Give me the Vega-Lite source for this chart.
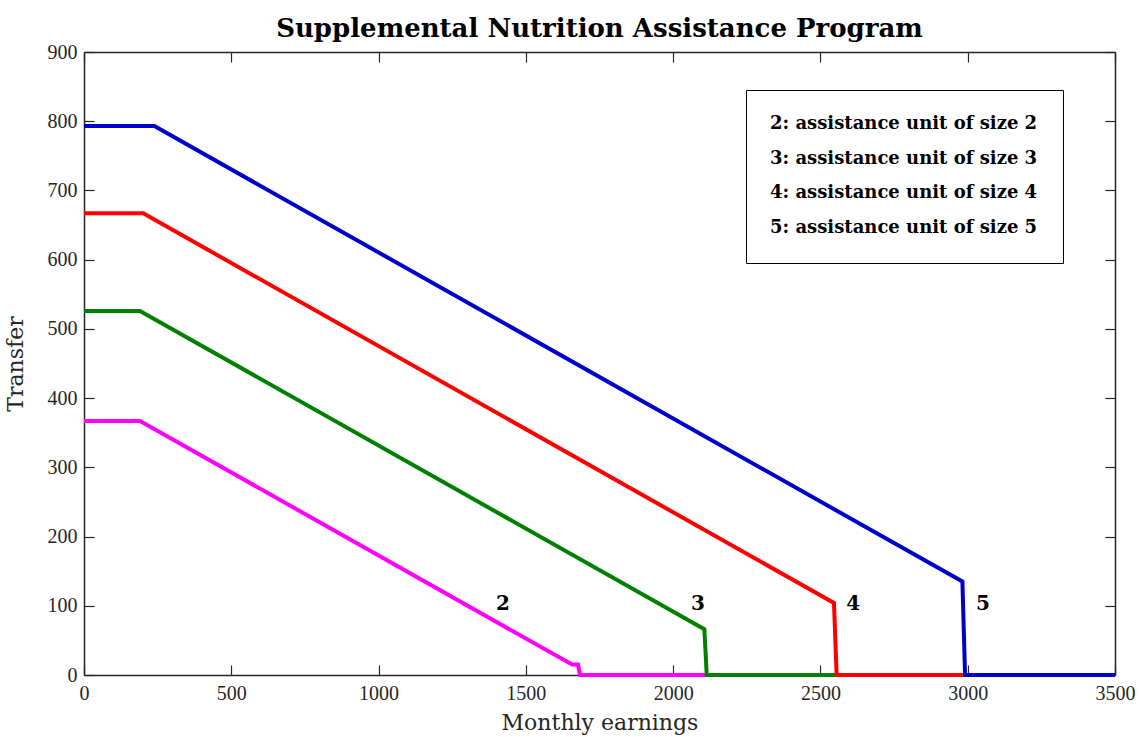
{
  "$schema": "https://vega.github.io/schema/vega-lite/v6.json",
  "autosize": {"type": "none"},
  "padding": {"left": 84, "top": 52, "right": 24, "bottom": 62},
  "width": 1031,
  "height": 623,
  "background": "white",
  "title": {"text": "Supplemental Nutrition Assistance Program", "font": "DejaVu Serif", "fontSize": 26, "fontWeight": "bold", "color": "black", "anchor": "middle", "offset": 0},
  "config": {
    "view": {"stroke": null},
    "axis": {"labelFont": "Liberation Serif", "labelFontSize": 20, "labelColor": "#262626", "titleFont": "DejaVu Serif", "titleFontSize": 22, "titleFontWeight": "normal", "titleColor": "#262626", "domainColor": "#262626", "domainWidth": 1.5, "tickColor": "#262626", "tickWidth": 1.2, "grid": false, "format": "d"}
  },
  "datasets": {
    "lines": [
      {"earnings": 0, "transfer": 367, "size": "2"},
      {"earnings": 190, "transfer": 367, "size": "2"},
      {"earnings": 1657, "transfer": 15, "size": "2"},
      {"earnings": 1677, "transfer": 15, "size": "2"},
      {"earnings": 1684, "transfer": 0, "size": "2"},
      {"earnings": 3500, "transfer": 0, "size": "2"},
      {"earnings": 0, "transfer": 526, "size": "3"},
      {"earnings": 190, "transfer": 526, "size": "3"},
      {"earnings": 2106, "transfer": 66, "size": "3"},
      {"earnings": 2114, "transfer": 0, "size": "3"},
      {"earnings": 3500, "transfer": 0, "size": "3"},
      {"earnings": 0, "transfer": 667, "size": "4"},
      {"earnings": 201, "transfer": 667, "size": "4"},
      {"earnings": 2546, "transfer": 104, "size": "4"},
      {"earnings": 2555, "transfer": 0, "size": "4"},
      {"earnings": 3500, "transfer": 0, "size": "4"},
      {"earnings": 0, "transfer": 793, "size": "5"},
      {"earnings": 239, "transfer": 793, "size": "5"},
      {"earnings": 2982, "transfer": 135, "size": "5"},
      {"earnings": 2991, "transfer": 0, "size": "5"},
      {"earnings": 3500, "transfer": 0, "size": "5"}
    ],
    "labels": [
      {"earnings": 1422, "transfer": 103, "size": "2"},
      {"earnings": 2084, "transfer": 103, "size": "3"},
      {"earnings": 2611, "transfer": 103, "size": "4"},
      {"earnings": 3052, "transfer": 103, "size": "5"}
    ]
  },
  "layer": [
    {
      "data": {"name": "lines"},
      "mark": {"type": "line", "strokeWidth": 4, "strokeJoin": "miter"},
      "encoding": {
        "x": {"field": "earnings", "type": "quantitative", "scale": {"domain": [0, 3500], "nice": false}, "axis": {"title": "Monthly earnings", "values": [0, 500, 1000, 1500, 2000, 2500, 3000, 3500], "tickSize": -10, "labelPadding": 18, "titlePadding": 9, "labelFlush": false}},
        "y": {"field": "transfer", "type": "quantitative", "scale": {"domain": [0, 900], "nice": false}, "axis": {"title": "Transfer", "values": [0, 100, 200, 300, 400, 500, 600, 700, 800, 900], "tickSize": -10, "labelPadding": 17, "titlePadding": 20, "labelFlush": false}},
        "color": {"field": "size", "type": "nominal", "scale": {"domain": ["2", "3", "4", "5"], "range": ["#FF00FF", "#008000", "#FF0000", "#0000CC"]},
          "legend": {"orient": "none", "legendX": 662, "legendY": 38, "title": null, "symbolSize": 0, "symbolStrokeWidth": 0, "symbolOpacity": 0, "labelOffset": -19, "labelExpr": "datum.label + ': assistance unit of size ' + datum.label", "labelFont": "DejaVu Serif", "labelFontSize": 18, "labelFontWeight": "bold", "labelColor": "black", "rowPadding": 16.7, "padding": 25, "strokeColor": "black", "fillColor": "white", "labelLimit": 400}
        }
      }
    },
    {
      "data": {"name": "labels"},
      "mark": {"type": "text", "font": "DejaVu Serif", "fontSize": 20, "fontWeight": "bold", "color": "black", "align": "center", "baseline": "middle"},
      "encoding": {
        "x": {"field": "earnings", "type": "quantitative", "axis": null},
        "y": {"field": "transfer", "type": "quantitative", "axis": null},
        "text": {"field": "size"}
      }
    },
    {
      "data": {"name": "lines"},
      "mark": {"type": "point", "opacity": 0},
      "encoding": {
        "x": {"field": "earnings", "type": "quantitative", "axis": {"orient": "top", "title": null, "labels": false, "values": [0, 500, 1000, 1500, 2000, 2500, 3000, 3500], "tickSize": -10}},
        "y": {"field": "transfer", "type": "quantitative", "axis": {"orient": "right", "title": null, "labels": false, "values": [0, 100, 200, 300, 400, 500, 600, 700, 800, 900], "tickSize": -10}}
      }
    }
  ],
  "resolve": {"axis": {"x": "independent", "y": "independent"}}
}
